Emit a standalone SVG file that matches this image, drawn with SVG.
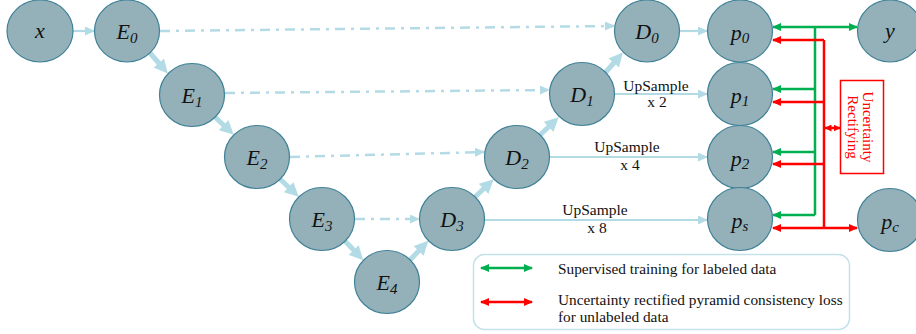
<svg xmlns="http://www.w3.org/2000/svg" width="916" height="334" viewBox="0 0 916 334">
<style>
.node ellipse{fill:#94b1ba;stroke:#3f8197;stroke-width:1.2}
.lbl{font-family:"Liberation Serif",serif;font-style:italic;font-size:22px;fill:#111;text-anchor:middle}
.sub{font-size:15px}
.thick{stroke:#b3dbe5;stroke-width:5;fill:none;marker-end:url(#ahT)}
.thin{stroke:#b3dbe5;stroke-width:2.2;fill:none;marker-end:url(#ahS)}
.dd{stroke:#b3dbe5;stroke-width:2.5;fill:none;stroke-dasharray:10 6 3 6;marker-end:url(#ahS)}
.g{stroke:#00b050;stroke-width:2.5;fill:none}
.r{stroke:#ff0000;stroke-width:2.5;fill:none}
.txt{font-family:"Liberation Serif",serif;font-size:15.5px;fill:#111;text-anchor:middle}
.leg{font-family:"Liberation Serif",serif;font-size:15.3px;fill:#111}
</style>
<defs>
<marker id="ahT" markerUnits="userSpaceOnUse" markerWidth="14" markerHeight="14" viewBox="0 0 14 14" refX="2" refY="7" orient="auto"><path d="M0,0 L14,7 L0,14 z" fill="#b3dbe5"/></marker>
<marker id="ahS" markerUnits="userSpaceOnUse" markerWidth="10" markerHeight="9" viewBox="0 0 10 9" refX="9" refY="4.5" orient="auto"><path d="M0,0 L10,4.5 L0,9 z" fill="#b3dbe5"/></marker>
<marker id="ahG" markerUnits="userSpaceOnUse" markerWidth="9" markerHeight="8" viewBox="0 0 9 8" refX="8" refY="4" orient="auto-start-reverse"><path d="M0,0 L9,4 L0,8 z" fill="#00b050"/></marker>
<marker id="ahR" markerUnits="userSpaceOnUse" markerWidth="9" markerHeight="8" viewBox="0 0 9 8" refX="8" refY="4" orient="auto-start-reverse"><path d="M0,0 L9,4 L0,8 z" fill="#ff0000"/></marker>
<marker id="ahRs" markerUnits="userSpaceOnUse" markerWidth="7" markerHeight="7" viewBox="0 0 7 7" refX="6.5" refY="3.5" orient="auto-start-reverse"><path d="M0,0 L7,3.5 L0,7 z" fill="#ff0000"/></marker>
</defs>

<g id="connectors">
<line class="thin" x1="73" y1="31" x2="94" y2="31"/>
<line class="thick" x1="150" y1="53" x2="160" y2="64.5"/>
<line class="thick" x1="215" y1="117" x2="225" y2="126.5"/>
<line class="thick" x1="280" y1="179" x2="290" y2="188.5"/>
<line class="thick" x1="345" y1="241" x2="355" y2="251.5"/>
<line class="thick" x1="410" y1="260" x2="420" y2="249.5"/>
<line class="thick" x1="475" y1="197" x2="485" y2="187.5"/>
<line class="thick" x1="540" y1="135" x2="550" y2="125.5"/>
<line class="thick" x1="605" y1="73" x2="615" y2="61.5"/>
<line class="dd" x1="160" y1="31" x2="614" y2="26"/>
<line class="dd" x1="225" y1="93" x2="549" y2="90"/>
<line class="dd" x1="290" y1="157" x2="484" y2="152"/>
<line class="dd" x1="355" y1="219" x2="419" y2="219"/>
<line class="thin" x1="679" y1="31" x2="707" y2="31"/>
<line class="thin" x1="614" y1="94" x2="707" y2="94"/>
<line class="thin" x1="549" y1="157" x2="707" y2="157"/>
<line class="thin" x1="484" y1="220" x2="707" y2="220"/>
<text class="txt" x="656" y="91">UpSample</text>
<text class="txt" x="657" y="107">x 2</text>
<text class="txt" x="627" y="152">UpSample</text>
<text class="txt" x="630" y="170">x 4</text>
<text class="txt" x="595" y="215">UpSample</text>
<text class="txt" x="597" y="233">x 8</text>

<line class="g" x1="815" y1="27" x2="815" y2="215"/>
<line class="g" x1="773" y1="27" x2="857" y2="27" marker-start="url(#ahG)" marker-end="url(#ahG)"/>
<line class="g" x1="815" y1="89" x2="773" y2="89" marker-end="url(#ahG)"/>
<line class="g" x1="815" y1="152" x2="773" y2="152" marker-end="url(#ahG)"/>
<line class="g" x1="815" y1="215" x2="773" y2="215" marker-end="url(#ahG)"/>

<line class="r" x1="824" y1="40" x2="824" y2="228"/>
<line class="r" x1="824" y1="40" x2="773" y2="40" marker-end="url(#ahR)"/>
<line class="r" x1="824" y1="102" x2="773" y2="102" marker-end="url(#ahR)"/>
<line class="r" x1="824" y1="164" x2="773" y2="164" marker-end="url(#ahR)"/>
<line class="r" x1="773" y1="228" x2="857" y2="228" marker-start="url(#ahR)" marker-end="url(#ahR)"/>
<line class="r" x1="825" y1="128" x2="840" y2="128" marker-start="url(#ahRs)" marker-end="url(#ahRs)"/>
</g>

<g id="uncertainty">
<rect x="840.5" y="80.5" width="43" height="93" fill="#fff" stroke="#ff0000" stroke-width="1.5"/>
<text transform="translate(863,127) rotate(90)" font-family="Liberation Serif,serif" font-size="15" fill="#ff0000" text-anchor="middle">Uncertainty</text>
<text transform="translate(848,127) rotate(90)" font-family="Liberation Serif,serif" font-size="15" fill="#ff0000" text-anchor="middle">Rectifying</text>
</g>

<g id="n-x" class="node"><ellipse cx="40" cy="31" rx="33" ry="31"/><text class="lbl" x="40" y="38">x</text></g>
<g id="n-E0" class="node"><ellipse cx="127" cy="31" rx="32.5" ry="31"/><text class="lbl" x="127" y="39">E<tspan class="sub" dy="4">0</tspan></text></g>
<g id="n-E1" class="node"><ellipse cx="192" cy="95" rx="32.5" ry="31.5"/><text class="lbl" x="192" y="103">E<tspan class="sub" dy="4">1</tspan></text></g>
<g id="n-E2" class="node"><ellipse cx="257" cy="157" rx="32.5" ry="31.5"/><text class="lbl" x="257" y="165">E<tspan class="sub" dy="4">2</tspan></text></g>
<g id="n-E3" class="node"><ellipse cx="322" cy="219" rx="32.5" ry="31.5"/><text class="lbl" x="322" y="227">E<tspan class="sub" dy="4">3</tspan></text></g>
<g id="n-E4" class="node"><ellipse cx="387" cy="282" rx="32.5" ry="31.5"/><text class="lbl" x="387" y="290">E<tspan class="sub" dy="4">4</tspan></text></g>
<g id="n-D3" class="node"><ellipse cx="452" cy="219" rx="32.5" ry="31.5"/><text class="lbl" x="452" y="227">D<tspan class="sub" dy="4">3</tspan></text></g>
<g id="n-D2" class="node"><ellipse cx="517" cy="157" rx="32.5" ry="31.5"/><text class="lbl" x="517" y="165">D<tspan class="sub" dy="4">2</tspan></text></g>
<g id="n-D1" class="node"><ellipse cx="582" cy="94" rx="32.5" ry="31.5"/><text class="lbl" x="582" y="102">D<tspan class="sub" dy="4">1</tspan></text></g>
<g id="n-D0" class="node"><ellipse cx="647" cy="31" rx="32.5" ry="31"/><text class="lbl" x="647" y="39">D<tspan class="sub" dy="4">0</tspan></text></g>
<g id="n-p0" class="node"><ellipse cx="740" cy="31" rx="32.5" ry="31"/><text class="lbl" x="740" y="40">p<tspan class="sub" dy="3">0</tspan></text></g>
<g id="n-p1" class="node"><ellipse cx="740" cy="94" rx="32.5" ry="31.5"/><text class="lbl" x="740" y="103">p<tspan class="sub" dy="3">1</tspan></text></g>
<g id="n-p2" class="node"><ellipse cx="740" cy="157" rx="32.5" ry="31.5"/><text class="lbl" x="740" y="166">p<tspan class="sub" dy="3">2</tspan></text></g>
<g id="n-ps" class="node"><ellipse cx="740" cy="219" rx="32.5" ry="31.5"/><text class="lbl" x="740" y="228">p<tspan class="sub" dy="3">s</tspan></text></g>
<g id="n-y" class="node"><ellipse cx="890" cy="31" rx="32.5" ry="31"/><text class="lbl" x="890" y="38">y</text></g>
<g id="n-pc" class="node"><ellipse cx="890" cy="220" rx="32.5" ry="31.5"/><text class="lbl" x="890" y="229">p<tspan class="sub" dy="3">c</tspan></text></g>

<g id="legend">
<rect x="473.5" y="254.5" width="376" height="75" rx="11" fill="#fff" stroke="#c3e2ea" stroke-width="1.5"/>
<line class="g" x1="481" y1="268" x2="532" y2="268" marker-start="url(#ahG)" marker-end="url(#ahG)"/>
<line class="r" x1="481" y1="302" x2="532" y2="302" marker-start="url(#ahR)" marker-end="url(#ahR)"/>
<text class="leg" x="558" y="274">Supervised training for labeled data</text>
<text class="leg" x="558" y="305">Uncertainty rectified pyramid consistency loss</text>
<text class="leg" x="558" y="322">for unlabeled data</text>
</g>
</svg>
